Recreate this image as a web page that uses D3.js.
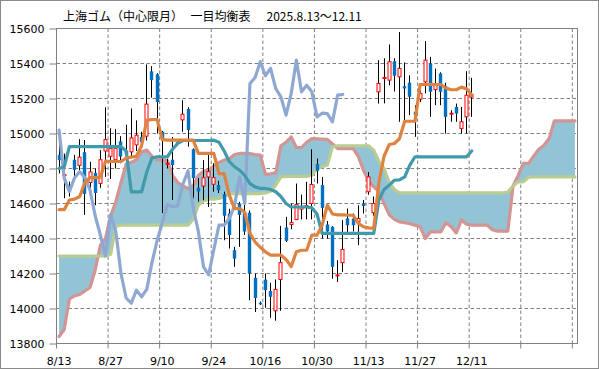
<!DOCTYPE html>
<html><head><meta charset="utf-8">
<script src="https://cdn.jsdelivr.net/npm/d3@7"></script>
<style>body{margin:0;background:#fff}svg{display:block}</style>
</head><body><svg id="c" width="599" height="370"></svg>
<script>
// ---- data ----
const tradingDates = ["8/13","8/14","8/15","8/18","8/19","8/20","8/21","8/22","8/25","8/26",
"8/27","8/28","8/29","9/1","9/2","9/3","9/4","9/5","9/8","9/9",
"9/10","9/11","9/12","9/15","9/16","9/17","9/18","9/19","9/22","9/23",
"9/24","9/25","9/26","9/29","9/30","10/9","10/10","10/13","10/14","10/15",
"10/16","10/17","10/20","10/21","10/22","10/23","10/24","10/27","10/28","10/29",
"10/30","10/31","11/3","11/4","11/5","11/6","11/7","11/10","11/11","11/12",
"11/13","11/14","11/17","11/18","11/19","11/20","11/21","11/24","11/25","11/26",
"11/27","11/28","12/1","12/2","12/3","12/4","12/5","12/8","12/9","12/10","12/11"];
const futureSlots = 20;
const xTickIndex = [0,10,20,30,40,50,60,70,80,90,100];
const yTicks = [13800,14000,14200,14400,14600,14800,15000,15200,15400,15600];

const open  = [14878,14760,14705,14850,14818,14893,14720,14775,14715,14900,14870,14850,14955,14900,14895,14935,14980,14985,15355,15338,
15010,14825,14850,14950,15078,15140,14910,14690,14700,14752,14710,14705,14653,14543,14333,14600,14545,14548,14175,14033,
14165,14100,13987,14166,14463,14480,14509,14568,14583,14600,14825,14705,14480,14467,14188,14262,14515,14514,14495,14600,
14667,14548,15238,15316,15305,15413,15324,15270,15291,15124,15197,15295,15400,15251,15343,15272,15112,15152,15029,15095,15208];
const high  = [14935,14885,14725,14878,14968,14963,14838,14800,14905,15150,15030,15025,14985,15050,15143,15075,15010,15395,15385,15345,
15015,14855,14980,14960,15190,15150,14915,14745,14848,14880,14830,14730,14668,14570,14352,14610,14676,14560,14200,14040,
14200,14147,14166,14472,14524,14600,14714,14651,14724,14910,14857,14752,14500,14470,14276,14505,14571,14543,14590,14620,
14780,14640,15419,15430,15509,15430,15580,15406,15333,15162,15248,15528,15438,15371,15350,15290,15133,15171,15152,15356,15318];
const low   = [14772,14630,14640,14752,14790,14535,14680,14590,14690,14752,14740,14800,14830,14840,14860,14900,14920,14960,15205,15000,
14545,14800,14620,14930,15010,14925,14630,14610,14618,14580,14667,14660,14390,14343,14238,14352,14420,14047,13980,14020,
14004,13947,13930,13987,14380,14453,14505,14509,14509,14509,14714,14400,14400,14170,14152,14210,14420,14440,14362,14543,
14650,14530,15171,15172,15276,15240,15067,15048,15105,14981,15180,15229,15095,15162,15162,15000,15067,15067,15000,15000,15095];
const close = [14848,14765,14680,14792,14865,14655,14780,14660,14850,14965,14915,14916,14868,14880,14975,14990,14950,15168,15305,15180,
14970,14830,14820,14940,15110,15020,14745,14668,14747,14782,14748,14676,14530,14420,14285,14535,14440,14200,14060,14024,
14105,14067,14109,14262,14387,14491,14594,14581,14588,14709,14787,14575,14440,14238,14192,14337,14476,14476,14514,14586,
14752,14600,15286,15320,15410,15330,15372,15257,15210,15105,15229,15419,15238,15276,15238,15095,15116,15114,15067,15219,15223];

const tenkan = [14565,14565,14620,14625,14640,14720,14748,14748,14750,14842,14840,14840,14840,14860,14865,14870,14930,15075,15080,15080,
14965,14962,14962,14962,14962,14962,14962,14886,14886,14886,14886,14771,14771,14648,14571,14571,14550,14430,14380,14350,
14324,14305,14305,14305,14280,14240,14324,14333,14333,14419,14419,14476,14590,14540,14535,14535,14533,14533,14486,14467,
14461,14457,14720,14870,14937,14943,14971,15070,15070,15070,15280,15280,15280,15280,15280,15260,15250,15250,15265,15255,15220];
const kijun = [14800,14810,14925,14925,14925,14925,14925,14925,14925,14925,14925,14925,14925,14900,14667,14667,14667,14780,14860,14867,
14867,14867,14910,14943,14960,14960,14960,14960,14960,14960,14962,14950,14900,14840,14810,14790,14760,14714,14695,14686,
14686,14680,14667,14640,14600,14580,14580,14580,14580,14575,14540,14429,14429,14429,14429,14429,14429,14429,14429,14429,
14429,14429,14620,14680,14705,14733,14735,14752,14819,14867,14867,14867,14867,14867,14867,14867,14867,14867,14867,14867,14900];
const chikou = [15020,14745,14668,14747,14782,14748,14676,14530,14420,14300,14535,14440,14200,14060,14030,14105,14067,14109,14262,14387,
14491,14594,14581,14588,14709,14787,14575,14440,14238,14192,14337,14476,14476,14514,14586,14752,14600,15286,15320,15410,
15330,15372,15257,15210,15105,15229,15419,15238,15276,15238,15095,15116,15114,15067,15219,15223];
const senkouA = [13840,13880,14055,14072,14080,14100,14120,14220,14360,14400,14530,14610,14720,14825,14835,14850,14895,14905,14870,14850,
14848,14845,14760,14720,14700,14686,14700,14760,14785,14790,14815,14835,14848,14855,14880,14886,14886,14886,14880,14876,
14767,14770,14775,14930,14950,14981,14920,14920,14950,14971,14970,14968,14966,14940,14914,14914,14914,14914,14870,14790,
14730,14695,14670,14600,14535,14510,14495,14490,14485,14476,14467,14400,14438,14438,14438,14490,14467,14432,14505,14482,
14476,14476,14476,14476,14450,14442,14442,14442,14700,14760,14829,14829,14870,14910,14933,14971,15072,15072,15072,15072,15072];
const senkouB = [14300,14300,14300,14300,14300,14300,14300,14300,14300,14300,14310,14470,14476,14476,14476,14476,14476,14476,14476,14476,
14476,14476,14476,14476,14476,14476,14510,14590,14615,14625,14625,14629,14640,14655,14657,14657,14657,14657,14657,14657,
14660,14670,14705,14752,14755,14755,14755,14755,14755,14762,14800,14810,14820,14924,14930,14930,14930,14930,14930,14930,
14930,14905,14840,14800,14720,14680,14661,14661,14661,14661,14661,14661,14661,14661,14661,14661,14661,14661,14661,14661,
14661,14661,14661,14661,14661,14661,14661,14665,14700,14724,14724,14750,14752,14752,14752,14752,14752,14752,14752,14752,14752];

// ---- layout ----
const W = 599, H = 370;
const L = 56.5, R = 577.5, T = 28.5, B = 343.5;
const svg = d3.select("#c");
svg.append("rect").attr("x",0.5).attr("y",0.5).attr("width",W-1).attr("height",H-2)
  .attr("fill","#fff").attr("stroke","#898989");

const categories = tradingDates.concat(d3.range(futureSlots).map(k => "f" + k));
const x = d3.scaleBand().domain(d3.range(categories.length)).range([L, R]).padding(0);
const bw = x.bandwidth();
const cx = i => x(i) + bw / 2;
const y = d3.scaleLinear().domain([yTicks[0], yTicks[yTicks.length-1]]).range([B, T]);

const grid = svg.append("g");
grid.selectAll("line.h").data(yTicks.slice(1)).join("line")
  .attr("x1", L).attr("x2", R).attr("y1", d => y(d)).attr("y2", d => y(d))
  .attr("stroke", "#808080").attr("stroke-dasharray", "3.5,2.5");
grid.selectAll("line.v").data(xTickIndex.slice(1)).join("line")
  .attr("x1", i => x(i)).attr("x2", i => x(i)).attr("y1", T).attr("y2", B)
  .attr("stroke", "#808080").attr("stroke-dasharray", "3.5,2.5");

// cloud
const idxCloud = d3.range(senkouA.length);
svg.append("path").datum(idxCloud)
  .attr("d", d3.area().x(i => cx(i)).y0(i => y(senkouB[i])).y1(i => y(senkouA[i])))
  .attr("fill", "#92C4D5");

const lineGen = arr => d3.line().x(i => cx(i)).y(i => y(arr[i]));
function drawLine(arr, color) {
  svg.append("path").datum(d3.range(arr.length))
    .attr("d", lineGen(arr)).attr("fill", "none").attr("stroke", color)
    .attr("stroke-width", 3.2).attr("stroke-linejoin", "round").attr("stroke-linecap", "round");
}
drawLine(senkouA, "#D39494");
drawLine(senkouB, "#B9CD92");

// candles
const cg = svg.append("g");
const idx = d3.range(close.length);
cg.selectAll("line.wick").data(idx).join("line")
  .attr("x1", i => Math.floor(cx(i)) + 0.5).attr("x2", i => Math.floor(cx(i)) + 0.5)
  .attr("y1", i => y(high[i])).attr("y2", i => y(low[i]))
  .attr("stroke", "#000").attr("stroke-width", 1);
cg.selectAll("rect.body").data(idx).join("rect")
  .attr("x", i => close[i] >= open[i] ? Math.floor(cx(i)) - 1 : Math.floor(cx(i)) - 1.2)
  .attr("width", i => close[i] >= open[i] ? 3 : 3.4)
  .attr("y", i => y(Math.max(open[i], close[i])))
  .attr("height", i => Math.max(1, Math.abs(y(open[i]) - y(close[i]))))
  .attr("fill", i => close[i] >= open[i] ? "#fff" : "#0070C0")
  .attr("stroke", i => close[i] >= open[i] ? "#FF0000" : "none")
  .attr("stroke-width", 1);

drawLine(chikou, "#8FA8D2");
drawLine(kijun, "#4199AC");
drawLine(tenkan, "#DE8240");

// plot border
svg.append("rect").attr("x", L).attr("y", T).attr("width", R - L).attr("height", B - T)
  .attr("fill", "none").attr("stroke", "#808080");

// y axis
const yAxis = svg.append("g").attr("transform", `translate(${L},0)`)
  .call(d3.axisLeft(y).tickValues(yTicks).tickSize(7).tickPadding(5).tickFormat(d3.format("d")));
yAxis.select(".domain").remove();
yAxis.selectAll("line").attr("stroke", "#808080");
yAxis.selectAll("text").attr("font-family", "DejaVu Sans").attr("font-size", "11px").attr("fill", "#000").attr("dy", "0.36em");

// x axis ticks (at category boundaries) and labels (at category centres)
svg.append("g").selectAll("line").data(xTickIndex).join("line")
  .attr("x1", i => x(i)).attr("x2", i => x(i)).attr("y1", B).attr("y2", B + 5)
  .attr("stroke", "#808080");
svg.append("g").selectAll("text").data(xTickIndex.filter(i => i < tradingDates.length)).join("text")
  .attr("x", i => cx(i)).attr("y", 365).attr("text-anchor", "middle")
  .attr("font-family", "DejaVu Sans").attr("font-size", "11px").attr("fill", "#000")
  .text(i => categories[i]);

// title
const tf = "'Noto Sans CJK JP', sans-serif";
const titleParts = [["上海ゴム（中心限月）", 63], ["一目均衡表", 190.5], ["2025.8.13～12.11", 266.5]];
svg.append("g").selectAll("text").data(titleParts).join("text")
  .attr("x", d => d[1]).attr("y", 20.7).attr("font-family", tf).attr("font-size", "12px").attr("fill", "#000")
  .text(d => d[0]);
</script></body></html>
